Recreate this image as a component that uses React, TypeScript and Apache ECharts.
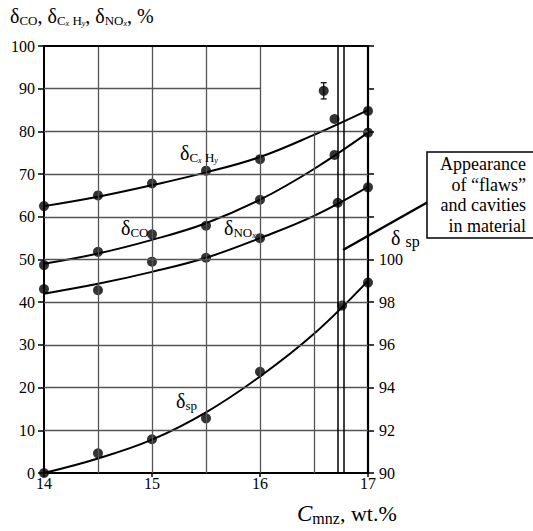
import React, { useEffect, useRef } from "react";
import * as echarts from "echarts";

// Measured points (left axis %, sp on right axis %)
const xPts = [14, 14.5, 15, 15.5, 16];
const cxhyPts = [62.5, 65.0, 67.8, 70.8, 73.5, 82.9, 84.8];
const cxhyX = [...xPts, 16.69, 17];
const coPts = [48.7, 51.8, 55.9, 57.9, 64.0, 74.5, 79.7];
const coX = [...xPts, 16.69, 17];
const noxPts = [43.1, 42.8, 49.5, 50.4, 55.0, 63.3, 66.9];
const noxX = [...xPts, 16.72, 17];
const spPts = [90, 90.92, 91.58, 92.56, 94.74, 97.84, 98.92];
const spX = [...xPts, 16.76, 17];
const outlier = [16.59, 89.5, 87.6, 91.4];

// Fitted curves
const xFit = [14, 14.5, 15, 15.5, 16, 16.5, 17];
const cxhyFit = [62.5, 64.7, 67.4, 70.4, 74.0, 79.2, 85.0];
const coFit = [49.0, 51.4, 54.6, 58.5, 64.0, 71.2, 79.7];
const noxFit = [42.0, 44.3, 47.1, 50.4, 55.0, 60.2, 67.0];
const spFit = [90, 90.68, 91.56, 92.84, 94.52, 96.52, 99.0];

// Grid lines
const hGridFull = [10, 20, 30, 40, 50, 60, 70, 80];
const hGridShort = [90];
const vGridFull = [14.5, 15, 15.5, 16];
const vGridShort = [16.5];
const flawBand = [16.72, 16.78];

const FONT = "Liberation Serif";

const zip = (xs: number[], ys: number[]) => xs.map((x, i) => [x, ys[i]]);

export default function App() {
  const ref = useRef<HTMLDivElement>(null);
  useEffect(() => {
    if (!ref.current) return;
    const chart = echarts.init(ref.current, null, { renderer: "svg" });
    const gridStyle = { color: "#555", width: 1.3, type: "solid" as const };
    const markData: any[] = [];
    hGridFull.forEach((y) =>
      markData.push([{ coord: [14, y], lineStyle: gridStyle }, { coord: [17, y] }])
    );
    hGridShort.forEach((y) =>
      markData.push([{ coord: [14, y], lineStyle: gridStyle }, { coord: [16, y] }])
    );
    vGridFull.forEach((x) =>
      markData.push([{ coord: [x, 0], lineStyle: gridStyle }, { coord: [x, 100] }])
    );
    vGridShort.forEach((x) =>
      markData.push([{ coord: [x, 0], lineStyle: gridStyle }, { coord: [x, 80] }])
    );
    flawBand.forEach((x) =>
      markData.push([
        { coord: [x, 0], lineStyle: { color: "#000", width: 1.5, type: "solid" } },
        { coord: [x, 100] },
      ])
    );
    markData.push([
      { coord: [14, 100], lineStyle: { color: "#000", width: 1.8, type: "solid" } },
      { coord: [17, 100] },
    ]);

    const fitLine = (name: string, ys: number[], yAxisIndex = 0) => ({
      name,
      type: "line",
      yAxisIndex,
      data: zip(xFit, ys),
      smooth: 0.4,
      showSymbol: false,
      symbol: "none",
      lineStyle: { color: "#000", width: 2 },
      z: 3,
    });
    const pts = (name: string, xs: number[], ys: number[], yAxisIndex = 0) => ({
      name,
      type: "scatter",
      yAxisIndex,
      data: zip(xs, ys),
      symbol: "circle",
      symbolSize: 10,
      itemStyle: { color: "#000" },
      z: 4,
    });

    const sub = (fs: number, lh: number, italic = false) => ({
      fontFamily: FONT,
      fontSize: fs,
      lineHeight: lh,
      verticalAlign: "bottom",
      fontStyle: italic ? "italic" : "normal",
      fill: "#000",
    });
    const rich = {
      d: { fontFamily: FONT, fontSize: 20, lineHeight: 22, verticalAlign: "middle", fill: "#000" },
      s: sub(13, 13),
      ss: sub(8, 8, true),
      i: { fontFamily: FONT, fontSize: 23, lineHeight: 26, fontStyle: "italic", verticalAlign: "middle", fill: "#000" },
      n: { fontFamily: FONT, fontSize: 22, lineHeight: 26, verticalAlign: "middle", fill: "#000" },
      sb: sub(16, 15),
    };
    const lbl = (x: number, y: number, text: string) => ({
      type: "text",
      left: x,
      top: y,
      style: { text, rich, fill: "#000" },
      z: 10,
    });

    chart.setOption({
      animation: false,
      backgroundColor: "#fff",
      grid: { left: 44, right: 165, top: 46, bottom: 58 },
      xAxis: {
        type: "value",
        min: 14,
        max: 17,
        interval: 1,
        axisLine: { lineStyle: { color: "#000", width: 2 } },
        axisTick: { show: true, length: 4, lineStyle: { color: "#000", width: 1.5 } },
        axisLabel: { color: "#000", fontFamily: FONT, fontSize: 16, margin: 2 },
        splitLine: { show: false },
      },
      yAxis: [
        {
          type: "value",
          min: 0,
          max: 100,
          interval: 10,
          axisLine: { show: true, lineStyle: { color: "#000", width: 2 } },
          axisTick: { show: true, length: 6, lineStyle: { color: "#000", width: 1.5 } },
          axisLabel: { color: "#000", fontFamily: FONT, fontSize: 16, margin: 9 },
          splitLine: { show: false },
        },
        {
          type: "value",
          position: "right",
          min: 90,
          max: 110,
          interval: 2,
          axisLine: { show: true, lineStyle: { color: "#000", width: 2.2 } },
          axisTick: { show: true, length: 6, lineStyle: { color: "#000", width: 1.5 } },
          axisLabel: {
            color: "#000",
            fontFamily: FONT,
            fontSize: 16,
            margin: 11,
            formatter: (v: number) => (v <= 100 ? String(v) : ""),
          },
          splitLine: { show: false },
        },
      ],
      series: [
        {
          name: "grid",
          type: "line",
          data: [],
          silent: true,
          z: 1,
          markLine: {
            silent: true,
            symbol: "none",
            label: { show: false },
            animation: false,
            data: markData,
          },
        },
        fitLine("CxHy fit", cxhyFit),
        fitLine("CO fit", coFit),
        fitLine("NOx fit", noxFit),
        fitLine("sp fit", spFit, 1),
        pts("CxHy", cxhyX, cxhyPts),
        pts("CO", coX, coPts),
        pts("NOx", noxX, noxPts),
        pts("sp", spX, spPts, 1),
        pts("outlier", [outlier[0]], [outlier[1]]),
        {
          name: "errbar",
          type: "custom",
          data: [outlier],
          z: 4,
          renderItem: (params: any, api: any) => {
            const top = api.coord([api.value(0), api.value(3)]);
            const bot = api.coord([api.value(0), api.value(2)]);
            const w = 3;
            const st = { stroke: "#000", lineWidth: 1.2 };
            return {
              type: "group",
              children: [
                { type: "line", shape: { x1: top[0], y1: top[1], x2: bot[0], y2: bot[1] }, style: st },
                { type: "line", shape: { x1: top[0] - w, y1: top[1], x2: top[0] + w, y2: top[1] }, style: st },
                { type: "line", shape: { x1: bot[0] - w, y1: bot[1], x2: bot[0] + w, y2: bot[1] }, style: st },
              ],
            };
          },
        },
      ],
      graphic: [
        lbl(10, 6, "{d|δ}{s|CO}{d|, δ}{s|C}{ss|x}{s| H}{ss|y}{d|, δ}{s|NO}{ss|x}{d|, %}"),
        lbl(180, 143, "{d|δ}{s|C}{ss|x}{s| H}{ss|y}"),
        lbl(121, 218, "{d|δ}{s|CO}"),
        lbl(224, 218, "{d|δ}{s|NO}{ss|x}"),
        lbl(176, 391, "{d|δ}{s|sp}"),
        lbl(391, 228, "{d|δ }{sb|sp}"),
        lbl(297, 502, "{i|C}{sb|mnz}{n|, wt.%}"),
        {
          type: "line",
          shape: { x1: 428, y1: 202, x2: 343, y2: 250 },
          style: { stroke: "#000", lineWidth: 2.5 },
          z: 9,
        },
        {
          type: "rect",
          shape: { x: 427, y: 152, width: 110, height: 86 },
          style: { fill: "#fff", stroke: "#000", lineWidth: 1.5 },
          z: 10,
        },
        {
          type: "text",
          x: 526,
          y: 154,
          z: 11,
          style: {
            text: "Appearance\nof “flaws”\nand cavities\nin material",
            fontFamily: FONT,
            fontSize: 18,
            lineHeight: 20.5,
            align: "right",
            verticalAlign: "top",
            fill: "#000",
          },
        },
      ],
    });
    return () => chart.dispose();
  }, []);
  return (
    <div
      ref={ref}
      style={{ position: "absolute", left: 0, top: 0, width: 533, height: 531 }}
    />
  );
}
